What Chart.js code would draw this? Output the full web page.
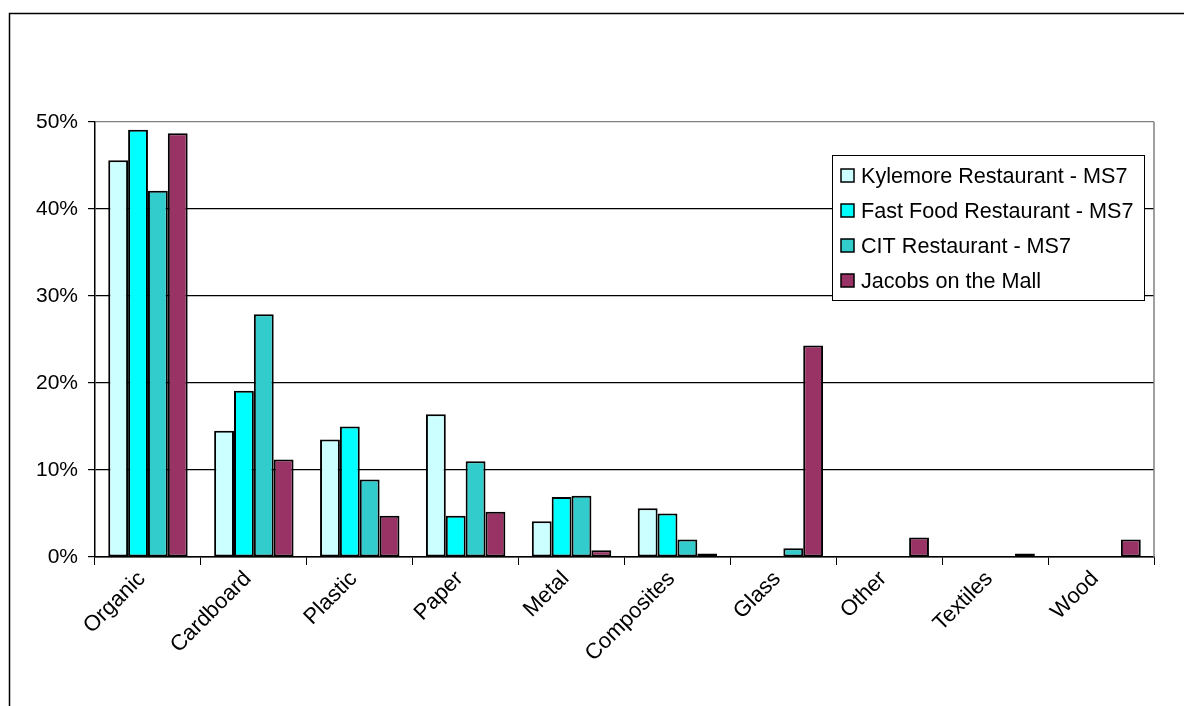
<!DOCTYPE html>
<html>
<head>
<meta charset="utf-8">
<script src="https://cdn.jsdelivr.net/npm/chart.js"></script>
<style>
  body { margin: 0; background: #fff; }
  canvas { display: block; }
</style>
</head>
<body>
<canvas id="wasteChart" width="1184" height="706"></canvas>
<script>
const categories = ["Organic", "Cardboard", "Plastic", "Paper", "Metal", "Composites", "Glass", "Other", "Textiles", "Wood"];

const kylemore = [45.6, 14.5, 13.5, 16.4, 4.1, 5.6, 0, 0, 0, 0];
const fastFood = [49.1, 19.1, 15.0, 4.75, 6.9, 5.0, 0, 0, 0, 0];
const citRestaurant = [42.1, 27.9, 8.9, 11.0, 7.05, 2.0, 1.0, 0, 0, 0];
const jacobs = [48.7, 11.2, 4.75, 5.2, 0.77, 0.4, 24.3, 2.25, 0.4, 2.0];

const seriesNames = ["Kylemore Restaurant - MS7", "Fast Food Restaurant - MS7", "CIT Restaurant - MS7", "Jacobs on the Mall"];
const seriesColors = ["#CCFFFF", "#00FFFF", "#33CCCC", "#993366"];

const FONT = "'Liberation Sans', Arial, sans-serif";

// outer frame and grey plot border
const framePlugin = {
  id: 'frame',
  beforeDraw(chart) {
    const ctx = chart.ctx;
    ctx.save();
    ctx.fillStyle = '#fff';
    ctx.fillRect(0, 0, chart.width, chart.height);
    ctx.strokeStyle = '#000';
    ctx.lineWidth = 1.5;
    ctx.beginPath();
    ctx.moveTo(9.5, chart.height + 2);
    ctx.lineTo(9.5, 13.5);
    ctx.lineTo(chart.width + 2, 13.5);
    ctx.stroke();
    ctx.restore();
  },
  afterDatasetsDraw(chart) {
    const a = chart.chartArea;
    const ctx = chart.ctx;
    ctx.save();
    ctx.strokeStyle = '#808080';
    ctx.lineWidth = 1.5;
    ctx.beginPath();
    ctx.moveTo(a.right, a.top);
    ctx.lineTo(a.right, a.bottom);
    ctx.stroke();
    ctx.restore();
  }
};

// boxed legend inside the plot
const boxLegend = {
  id: 'boxLegend',
  afterDraw(chart) {
    const ctx = chart.ctx;
    const x = 832.5, y = 155.5, w = 312, h = 145;
    ctx.save();
    ctx.fillStyle = '#fff';
    ctx.fillRect(x, y, w, h);
    ctx.strokeStyle = '#000';
    ctx.lineWidth = 1;
    ctx.strokeRect(x, y, w, h);
    ctx.font = '21.6px ' + FONT;
    ctx.textBaseline = 'middle';
    chart.data.datasets.forEach((ds, i) => {
      const cy = 176 + i * 35;
      ctx.fillStyle = ds.backgroundColor;
      ctx.fillRect(841, cy - 7, 13, 13);
      ctx.strokeStyle = '#000';
      ctx.lineWidth = 1.5;
      ctx.strokeRect(841, cy - 7, 13, 13);
      ctx.fillStyle = '#000';
      ctx.fillText(ds.label, 861, cy + 1);
    });
    ctx.restore();
  }
};

const series = [kylemore, fastFood, citRestaurant, jacobs];

new Chart(document.getElementById('wasteChart'), {
  type: 'bar',
  data: {
    labels: categories,
    datasets: series.map((values, i) => ({
      label: seriesNames[i],
      data: values,
      backgroundColor: seriesColors[i],
      borderColor: '#000',
      borderWidth: ctx => (ctx.raw ? 2 : 0),
      borderSkipped: false,
      categoryPercentage: 0.75,
      barPercentage: 1.0
    }))
  },
  options: {
    responsive: false,
    animation: false,
    layout: { padding: { top: 122, right: 30, left: 0, bottom: 0 } },
    plugins: {
      legend: { display: false },
      tooltip: { enabled: false }
    },
    scales: {
      x: {
        grid: {
          offset: true,
          drawOnChartArea: false,
          drawTicks: true,
          tickLength: 8,
          color: '#000'
        },
        border: { color: '#000', width: 1.5 },
        ticks: {
          color: '#000',
          font: { family: FONT, size: 22 },
          minRotation: 45,
          maxRotation: 45,
          labelOffset: -6,
          padding: 1
        },
        afterFit(scale) { scale.height = 149; }
      },
      y: {
        min: 0,
        max: 50,
        grid: {
          color: ctx => (ctx.tick && ctx.tick.value === 50 ? '#808080' : '#000'),
          lineWidth: 1.2,
          tickColor: '#000',
          tickLength: 7
        },
        border: { color: '#000', width: 1.5 },
        ticks: {
          stepSize: 10,
          color: '#000',
          padding: 10,
          font: { family: FONT, size: 21 },
          callback: v => v + '%'
        },
        afterFit(scale) { scale.width = 95; }
      }
    }
  },
  plugins: [framePlugin, boxLegend]
});
</script>
</body>
</html>
